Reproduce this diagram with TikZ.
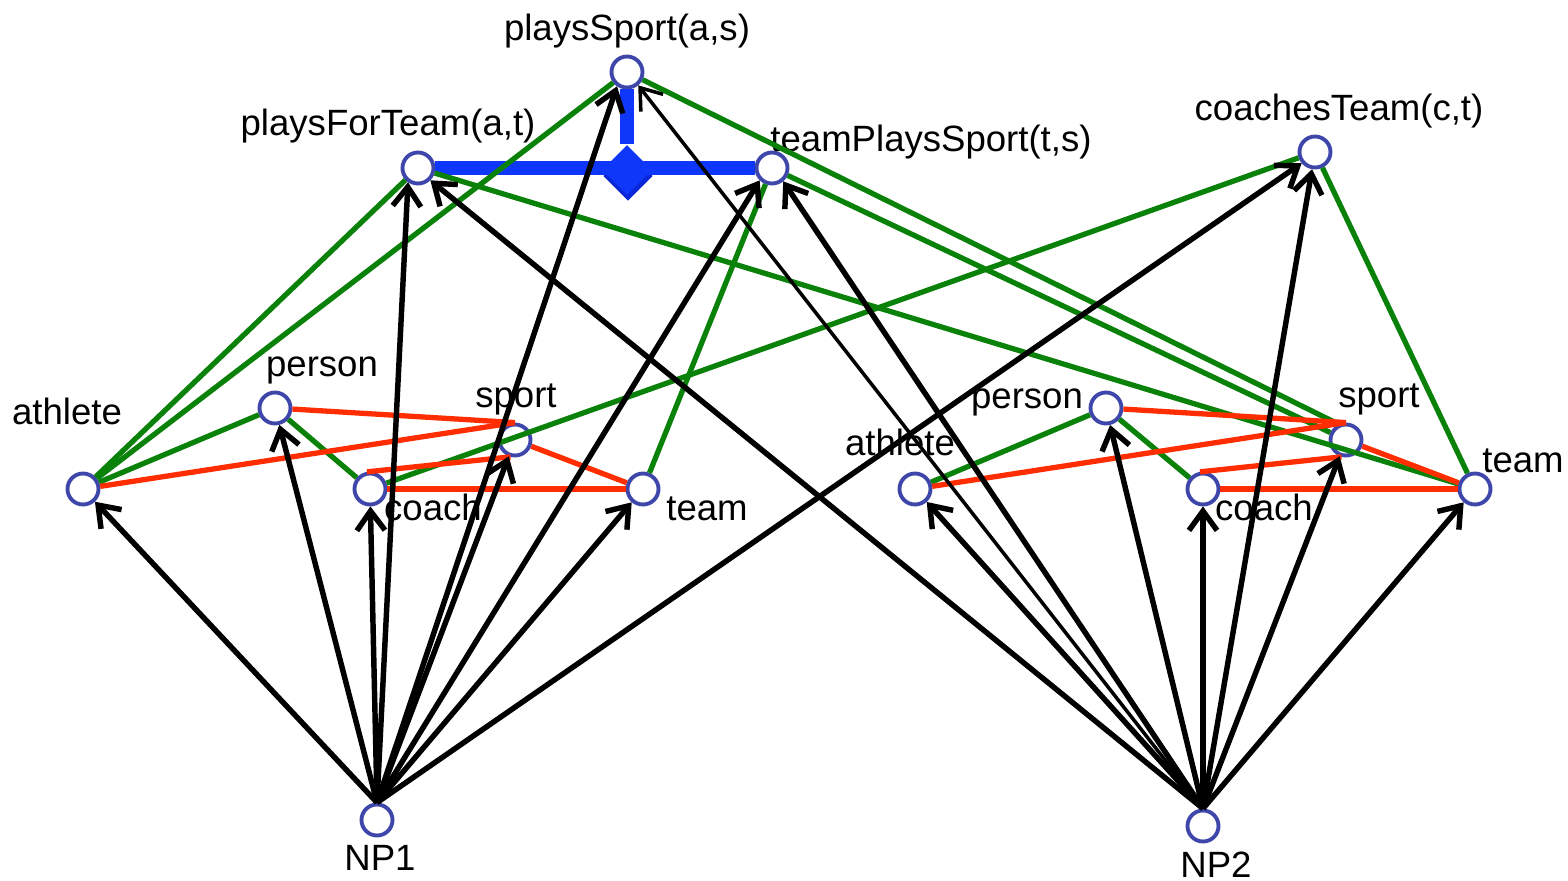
\documentclass[tikz,border=0pt]{standalone}
\usepackage{fontspec}
\setmainfont{Liberation Sans}
\usetikzlibrary{arrows.meta,shapes.geometric}
\definecolor{nodeblue}{RGB}{62,70,170}
\definecolor{ggreen}{RGB}{10,130,10}
\definecolor{rred}{RGB}{255,45,0}
\definecolor{bblue}{RGB}{15,55,250}
\definecolor{bbdark}{RGB}{10,40,215}
\newcommand\lbfont{\fontsize{10.4pt}{12pt}\selectfont}
\begin{document}
\begin{tikzpicture}[x=0.01cm,y=-0.01cm,
  vn/.style={circle, draw=nodeblue, line width=1.1pt, minimum size=0.31cm, inner sep=0pt},
  lbl/.style={font=\lbfont, inner sep=0pt, anchor=base},
  arr/.style={draw=black, line width=1.55pt, -{Straight Barb[length=5.5pt,width=8pt]}},
  thinarr/.style={arr, line width=1pt},
  grn/.style={draw=ggreen, line width=1.5pt},
  rd/.style={draw=rred, line width=1.5pt},
  bb/.style={draw=bblue, line width=3.8pt},
  dia/.style={diamond, fill=bblue, inner sep=0pt, minimum width=0.5cm, minimum height=0.5cm}]
\useasboundingbox (0,0) rectangle (1568,881);
% nodes
\node[vn] (pS) at (627,72) {};
\node[vn] (pFT) at (418,168) {};
\node[vn] (tPS) at (772,168) {};
\node[vn] (cT) at (1315,152) {};
\node[vn] (athL) at (83,489) {};
\node[vn] (perL) at (275,408) {};
\node[vn] (coaL) at (370,489) {};
\node[vn] (spoL) at (515,440) {};
\node[vn] (teaL) at (643,489) {};
\node[vn] (np1) at (377,820) {};
\node[vn] (athR) at (915,489) {};
\node[vn] (perR) at (1106,408) {};
\node[vn] (coaR) at (1203,489) {};
\node[vn] (spoR) at (1346,440) {};
\node[vn] (teaR) at (1475,489) {};
\node[vn] (np2) at (1203,826) {};
% labels
\node[lbl] (lpS) at (627,40) {playsSport(a,s)};
\node[lbl] (lpFT) at (388,135) {playsForTeam(a,t)};
\node[lbl] (ltPS) at (931,151) {teamPlaysSport(t,s)};
\node[lbl] (lcT) at (1339,120) {coachesTeam(c,t)};
\node[lbl] (lathL) at (67,424) {athlete};
\node[lbl] (lperL) at (322,376) {person};
\node[lbl] (lspoL) at (516,407) {sport};
\node[lbl] (lcoaL) at (433,520) {coach};
\node[lbl] (lteaL) at (707,520) {team};
\node[lbl] (lnp1) at (380,870) {NP1};
\node[lbl] (lathR) at (900,455) {athlete};
\node[lbl] (lperR) at (1027,408) {person};
\node[lbl] (lspoR) at (1379,407) {sport};
\node[lbl] (lcoaR) at (1264,520) {coach};
\node[lbl] (lteaR) at (1523,472) {team};
\node[lbl] (lnp2) at (1216,877) {NP2};
% blue composition
\node[dia, fill=bbdark] (dms) at (628,176) {};
\node[dia] (dm) at (627,170) {};
\draw[bb] (pFT) -- (tPS);
\draw[bb] (pS) -- (dm.north);
\node[dia] at (627,170) {};
% green
\draw[grn] (athL) -- (pFT);
\draw[grn] (athL) -- (pS);
\draw[grn] (athL) -- (perL);
\draw[grn] (perL) -- (coaL);
\draw[grn] (coaL) -- (cT);
\draw[grn] (teaL) -- (tPS);
\draw[grn] (pFT) -- (teaR);
\draw[grn] (pS) -- (spoR.115);
\draw[grn] (tPS) -- (spoR);
\draw[grn] (cT) -- (teaR);
\draw[grn] (athR) -- (perR);
\draw[grn] (perR) -- (coaR);
% red
\draw[rd] (perL) -- (spoL.north);
\draw[rd] (athL) -- (spoL.north);
\draw[rd] (coaL.100) -- (spoL.255);
\draw[rd] (coaL) -- (teaL);
\draw[rd] (spoL) -- (teaL);
\draw[rd] (perR) -- (spoR.north);
\draw[rd] (athR) -- (spoR.north);
\draw[rd] (coaR.100) -- (spoR.255);
\draw[rd] (coaR) -- (teaR);
\draw[rd] (spoR) -- (teaR);
% black arrows from NP1
\draw[arr] (np1.north) -- (athL);
\draw[arr] (np1.north) -- (perL);
\draw[arr] (np1.north) -- (coaL);
\draw[arr] (np1.north) -- (pFT.235);
\draw[arr] (np1.north) -- (spoL);
\draw[arr] (np1.north) -- (pS.235);
\draw[arr] (np1.north) -- (tPS.225);
\draw[arr] (np1.north) -- (teaL);
\draw[arr] (np1.north) -- (cT.220);
% black arrows from NP2
\draw[arr] (np2.north) -- (athR);
\draw[arr] (np2.north) -- (perR);
\draw[arr] (np2.north) -- (coaR);
\draw[arr] (np2.north) -- (spoR);
\draw[arr] (np2.north) -- (teaR);
\draw[arr] (np2.north) -- (cT);
\draw[arr] (np2.north) -- (pFT.-45);
\draw[arr] (np2.north) -- (tPS.-50);
\draw[thinarr] (np2.north) -- (pS.-50);
\end{tikzpicture}
\end{document}
